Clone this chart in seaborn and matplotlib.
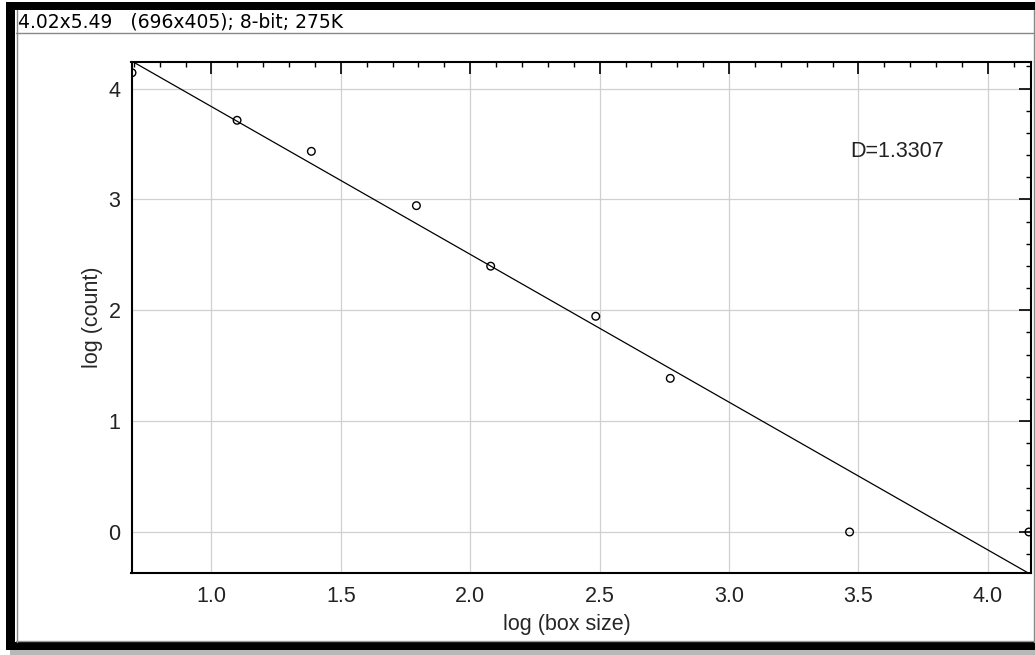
import numpy as np
import pandas as pd
import matplotlib
matplotlib.use("Agg")
import matplotlib.pyplot as plt
from matplotlib.patches import Rectangle
from matplotlib.lines import Line2D
from matplotlib.ticker import MultipleLocator
import seaborn as sns

# box counting result (natural log values)
log_box_size = [0.693, 1.099, 1.386, 1.792, 2.079, 2.485, 2.773, 3.466, 4.159]
log_count = [4.143, 3.714, 3.434, 2.944, 2.398, 1.946, 1.386, 0.0, 0.0]
dim_label = "D=1.3307"
window_title = "4.02x5.49   (696x405); 8-bit; 275K"

x_ticks = [1.0, 1.5, 2.0, 2.5, 3.0, 3.5, 4.0]
y_ticks = [0, 1, 2, 3, 4]

df = pd.DataFrame({"log (box size)": log_box_size, "log (count)": log_count})

sns.set_style("white")
plt.rcParams["font.family"] = ["Liberation Sans", "DejaVu Sans"]

W, H = 1035, 655
fig = plt.figure(figsize=(W / 100, H / 100), dpi=100)
fig.patch.set_facecolor("white")


# helpers for drawing the window frame in pixel units
def px(x):
    return x / W


def py(y):
    return 1 - y / H


def box(x0, y0, x1, y1, color):
    fig.patches.append(Rectangle((px(x0), py(y1)), px(x1) - px(x0), py(y0) - py(y1),
                                 transform=fig.transFigure, color=color, lw=0, zorder=0))


def hline(y, x0, x1, color, lw=1.0):
    fig.lines.append(Line2D([px(x0), px(x1)], [py(y), py(y)], transform=fig.transFigure,
                            color=color, lw=lw))


def vline(x, y0, y1, color, lw=1.0):
    fig.lines.append(Line2D([px(x), px(x)], [py(y0), py(y1)], transform=fig.transFigure,
                            color=color, lw=lw))


# window border
box(6, 2, W, 10, "black")
box(6, 2, 15, 650, "black")
box(6, 642, W, 650, "black")
box(10, 650, W, H, "#b8b8b8")
vline(16.5, 10, 642, "#888888")
hline(33, 16, W, "#888888")
hline(641, 16, W, "#999999")
vline(1034, 10, 642, "#888888")
fig.text(px(18), py(22.5), window_title, ha="left", va="center", fontsize=13.5,
         family="DejaVu Sans", color="black")

# plot area
ax = fig.add_axes([px(131.5), py(573), px(1031) - px(131.5), py(62) - py(573)])

sns.regplot(data=df, x="log (box size)", y="log (count)", ax=ax, scatter=False, ci=None,
            color="black", line_kws={"lw": 0.9})
sns.scatterplot(data=df, x="log (box size)", y="log (count)", ax=ax, marker="o",
                facecolor="none", edgecolor="black", linewidth=1.0, s=30, zorder=4)

ax.set_xlim(0.691, 4.167)
ax.set_ylim(-0.37, 4.24)
ax.set_xticks(x_ticks)
ax.set_xticklabels([f"{v:.1f}" for v in x_ticks])
ax.set_yticks(y_ticks)
ax.xaxis.set_minor_locator(MultipleLocator(0.1))
ax.yaxis.set_minor_locator(MultipleLocator(0.2))

ax.grid(True, which="major", color="#d0d0d0", lw=0.9)
ax.set_axisbelow(True)
for s in ax.spines.values():
    s.set_color("black")
    s.set_linewidth(1.5)

ax.tick_params(which="both", direction="in", top=True, right=True, colors="black",
               labelcolor="#222222", labelsize=15.5)
ax.tick_params(which="major", length=8.5, width=1.2)
ax.tick_params(which="minor", length=3.8, width=1.0)
ax.tick_params(axis="x", which="major", pad=9)
ax.tick_params(axis="y", which="major", pad=8)

ax.set_xlabel("log (box size)", fontsize=15.5)
ax.set_ylabel("log (count)", fontsize=15.5)
ax.xaxis.set_label_coords(0.484, -0.080)
ax.yaxis.set_label_coords(-0.032, 0.5)

ax.text(3.47, 3.43, dim_label, ha="left", va="center", fontsize=15.5, color="#222222")

fig.savefig("out.png", dpi=100)
